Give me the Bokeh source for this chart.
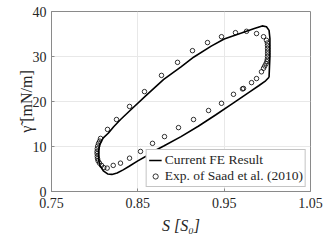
from bokeh.plotting import figure
from bokeh.models import Range1d, FixedTicker, Legend, LegendItem
from bokeh.embed import file_html
from bokeh.resources import INLINE

# FE result (closed loop)
fe_S = [1.002, 0.998, 0.990, 0.980, 0.960, 0.940, 0.920, 0.900, 0.880, 0.870,
        0.860, 0.850, 0.840, 0.833, 0.826, 0.820, 0.815, 0.810, 0.806, 0.8045,
        0.8045, 0.806, 0.810, 0.816, 0.822, 0.830, 0.841, 0.860, 0.880, 0.900,
        0.915, 0.935, 0.950, 0.970, 0.985, 0.994, 0.999, 1.002, 1.003, 1.003, 1.002]
fe_gamma = [25.4, 24.6, 23.5, 22.2, 19.6, 17.0, 14.5, 12.2, 10.1, 9.1,
            7.9, 6.8, 5.6, 4.8, 4.1, 3.8, 3.9, 4.6, 5.8, 7.3,
            9.0, 10.6, 11.9, 13.0, 14.4, 16.0, 18.0, 21.4, 24.9, 27.7,
            29.9, 32.3, 33.9, 35.2, 36.2, 36.8, 36.6, 35.8, 34.0, 30.0, 25.4]

# Experimental data (Saad et al. 2010)
exp_S = [0.8068, 0.8149, 0.8253, 0.8404, 0.8577, 0.8774, 0.8960, 0.9133, 0.9307,
         0.9469, 0.9631, 0.9759, 0.9875, 0.9956, 0.9990,
         1.0000, 1.0002, 1.0003, 1.0003, 1.0003, 1.0002, 1.0000, 0.9995, 0.9985,
         0.9970, 0.9956, 0.9932, 0.9875, 0.9817, 0.9724, 0.9712, 0.9608, 0.9469,
         0.9319, 0.9145, 0.8971, 0.8809, 0.8670, 0.8531, 0.8404, 0.8299, 0.8215,
         0.8145, 0.8106, 0.8079, 0.8056, 0.8040, 0.8033, 0.8030, 0.8028, 0.8028,
         0.8030, 0.8035, 0.8045, 0.8058]
exp_gamma = [11.8, 13.8, 16.0, 18.9, 22.2, 25.8, 28.7, 31.3, 33.1,
             34.4, 35.3, 35.6, 35.1, 34.4, 33.6,
             33.0, 32.4, 31.8, 31.2, 30.6, 30.0, 29.4, 28.9, 28.4,
             27.9, 27.4, 26.6, 25.1, 24.2, 22.9, 22.8, 21.6, 19.6,
             18.0, 16.0, 14.2, 12.2, 10.7, 8.9, 7.4, 6.3, 5.8,
             5.2, 5.3, 5.8, 6.3, 6.8, 7.3, 7.8, 8.4, 8.9,
             9.5, 10.1, 10.7, 11.2]

x_ticks = [0.75, 0.85, 0.95, 1.05]
y_ticks = [0, 10, 20, 30, 40]
x_label = "S [S\u2080]"
y_label = "\u03b3\u0303\u00a0[mN/m]"
legend_labels = ["Current FE Result", "Exp. of Saad et al. (2010)"]

FONT = "Liberation Serif"
AX = "#8a8a8a"

p = figure(width=327, height=245, output_backend="svg", toolbar_location=None,
           x_range=Range1d(0.75, 1.05), y_range=Range1d(0, 40),
           min_border_left=51, min_border_right=17, min_border_top=11,
           min_border_bottom=54)

line_r = p.line(fe_S, fe_gamma, line_color="black", line_width=1.6)
sc_r = p.scatter(exp_S, exp_gamma, marker="circle", size=4.5,
                 fill_color=None, line_color="black", line_width=0.8)

p.xaxis.ticker = FixedTicker(ticks=x_ticks)
p.yaxis.ticker = FixedTicker(ticks=y_ticks)
p.xaxis.major_label_overrides = {t: f"{t:.2f}" for t in x_ticks}

for ax in p.axis:
    ax.axis_line_color = AX
    ax.major_tick_line_color = AX
    ax.major_tick_in = 3
    ax.major_tick_out = 0
    ax.minor_tick_line_color = None
    ax.major_label_text_font = FONT
    ax.major_label_text_font_size = "14px"
    ax.major_label_text_color = "#262626"
    ax.axis_label_text_font = FONT
    ax.axis_label_text_font_size = "16px"
    ax.axis_label_text_color = "#262626"

p.xaxis.axis_label = x_label
p.xaxis.axis_label_text_font_style = "italic"
p.xaxis.major_label_standoff = 6
p.xaxis.axis_label_standoff = 6
p.yaxis.axis_label = y_label
p.yaxis.axis_label_text_font_style = "normal"
p.yaxis.major_label_standoff = 5
p.yaxis.axis_label_standoff = -5

p.grid.grid_line_color = "#e8e8e8"
p.outline_line_color = AX

legend = Legend(items=[LegendItem(label=legend_labels[0], renderers=[line_r]),
                       LegendItem(label=legend_labels[1], renderers=[sc_r])],
                location="bottom_right")
legend.margin = 4
legend.padding = 2
legend.spacing = 0
legend.glyph_width = 13
legend.glyph_height = 14
legend.label_height = 14
legend.label_standoff = 3
legend.label_text_font = FONT
legend.label_text_font_size = "13.5px"
legend.label_text_color = "#262626"
legend.border_line_color = AX
legend.background_fill_alpha = 1.0
p.add_layout(legend)

open("out.html", "w").write(file_html(p, INLINE))
